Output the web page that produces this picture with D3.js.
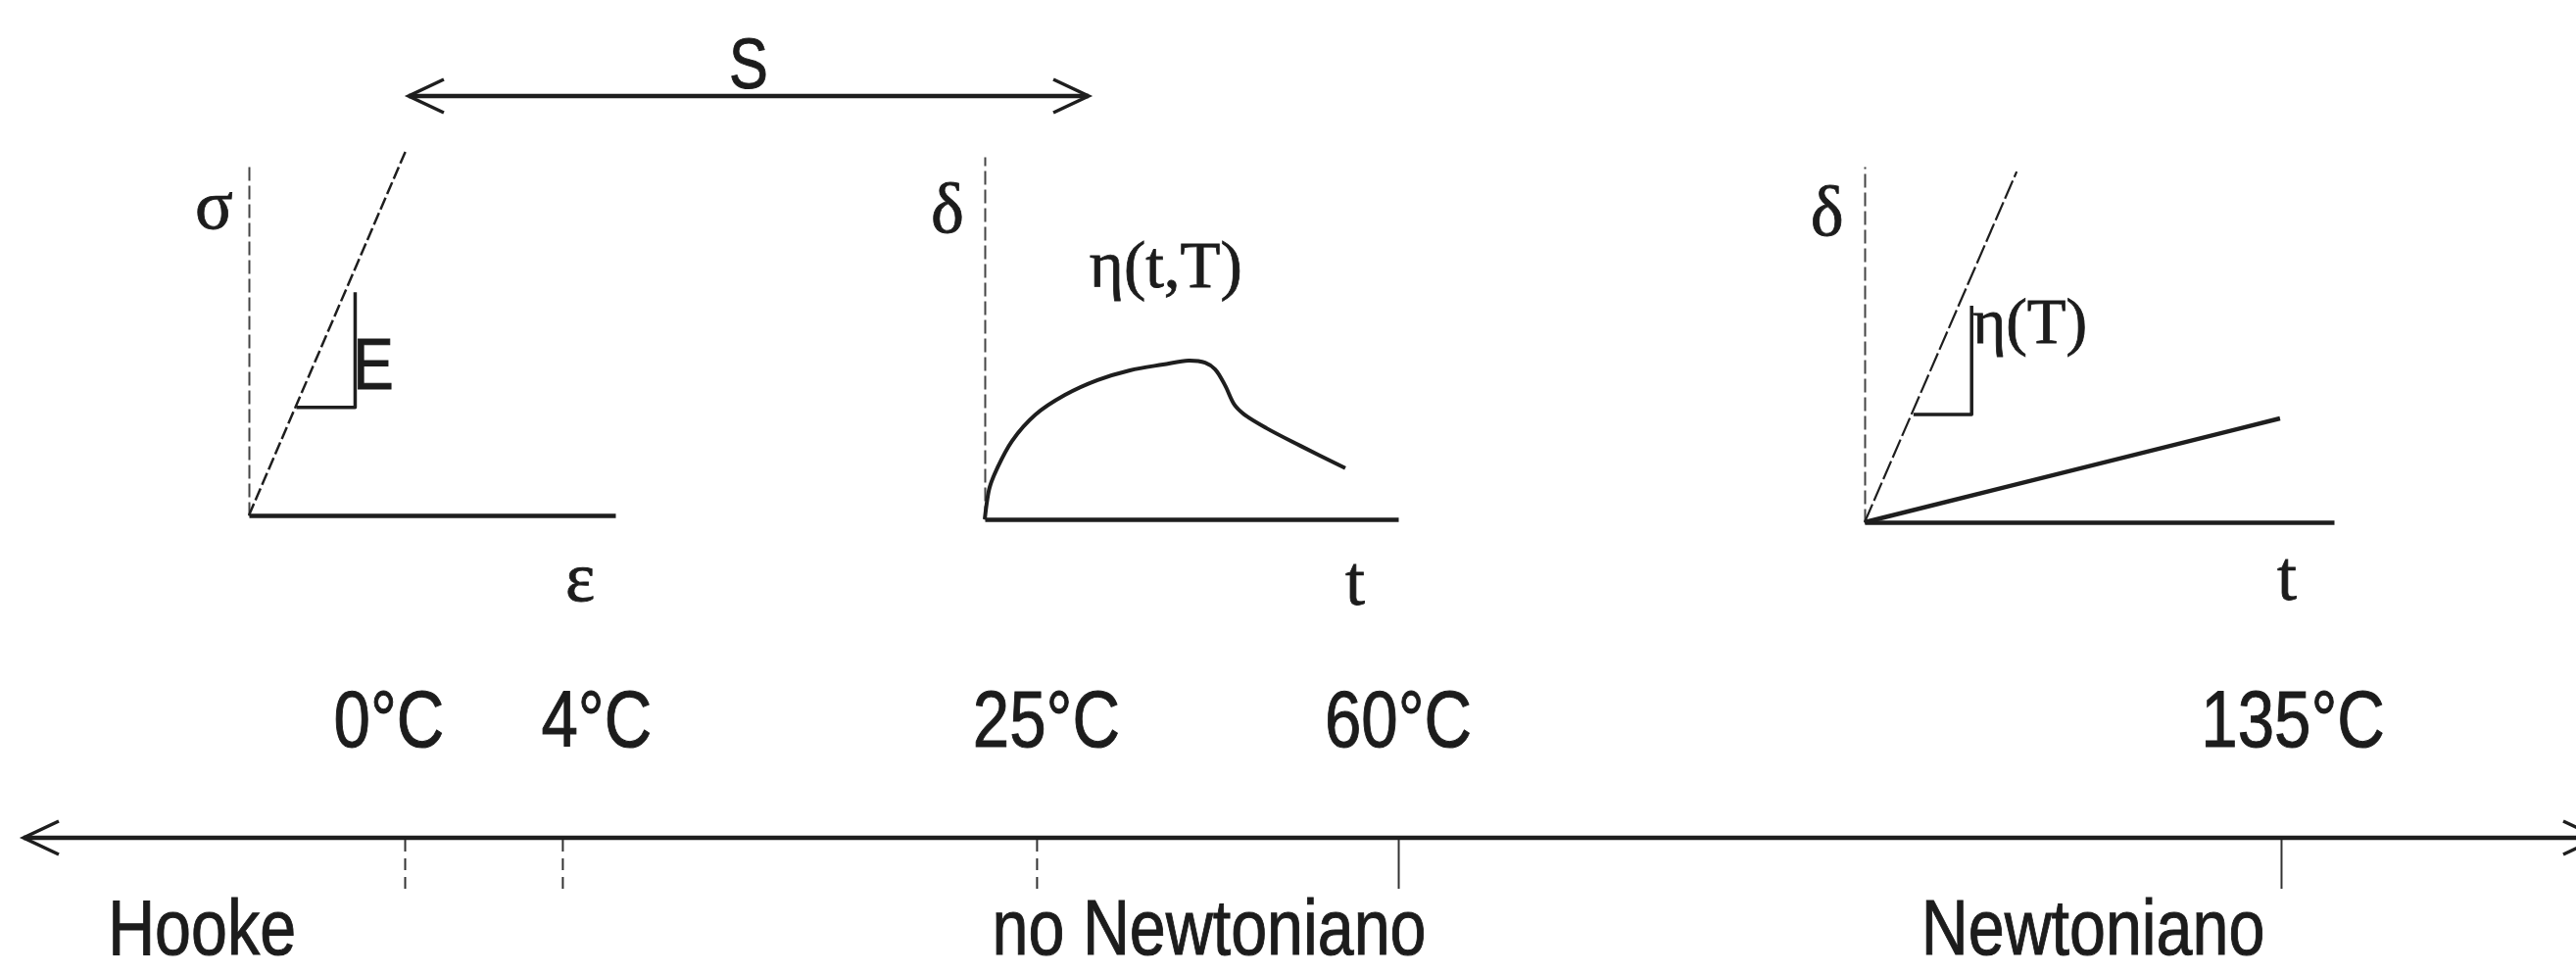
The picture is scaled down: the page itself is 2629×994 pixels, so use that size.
<!DOCTYPE html>
<html>
<head>
<meta charset="utf-8">
<script src="https://cdn.jsdelivr.net/npm/d3@7"></script>
<style>
  html, body { margin: 0; padding: 0; background: #fff; }
  svg { display: block; }
  .sans { font-family: "Liberation Sans", Arial, sans-serif; fill: #1c1c1c; stroke: #1c1c1c; stroke-width: 1; }
  .serif { font-family: "Liberation Serif", "DejaVu Serif", serif; fill: #1c1c1c; stroke: #1c1c1c; stroke-width: 0.8; }
</style>
</head>
<body>
<div id="graf"></div>
<script>
const anchoTotal = 2629
const altoTotal = 994
const tinta = '#1e1e1e'

// eje de temperaturas (posicion en % a lo largo del eje)
const tempLabels = ['0°C', '4°C', '25°C', '60°C', '135°C']
const tempTickPos = [15.71, 21.83, 40.24, 54.28, 88.55]
const tempLabelPos = [15.10, 23.16, 40.62, 54.28, 89.01]
const tickDashed = [true, true, true, false, false]
const regimes = ['Hooke', 'no Newtoniano', 'Newtoniano']
const regimePos = [7.84, 46.94, 81.25]
const sRange = [15.86, 42.26]
const sLabel = 'S'

// grafico 1: Hooke (sigma vs epsilon)
const hookeLine = [[0, 0], [43, 105]]
const hookeTri = [[13, 31], [29, 31], [29, 64]]
// grafico 2: no newtoniano (delta vs t)
const creepCurve = [[0, 0], [0.5, 4.6], [1.2, 8.9], [3.1, 14.3], [6.6, 21.6], [12.3, 28.9],
  [19.4, 34.3], [27.3, 38.4], [35.1, 41.1], [43.1, 42.7], [49.3, 43.8], [53.3, 43.2],
  [55.7, 41.4], [58.1, 37.0], [60.4, 31.6], [62.8, 28.9], [68.2, 25.1], [76.3, 20.3], [87.2, 14.1]]
// grafico 3: newtoniano
const newtonSteep = [[0, 0], [32.4, 98.6]]
const newtonShallow = [[0, 0], [88.5, 29.2]]
const newtonTri = [[10.4, 30.3], [22.8, 30.3], [22.8, 60.9]]

const svg = d3.select('#graf')
  .append('svg')
  .attr('width', anchoTotal)
  .attr('height', altoTotal)

// texto sans algo estrecho (como Helvetica Narrow)
function sansText(x, y, txt, size) {
  svg.append('text')
    .attr('class', 'sans')
    .attr('transform', `translate(${x}, ${y}) scale(0.83, 1)`)
    .attr('text-anchor', 'middle')
    .attr('font-size', size)
    .text(txt)
}

function arrowHead(x, y, dir) {
  svg.append('path')
    .attr('d', `M${x - dir * 36},${y - 17} L${x},${y} L${x - dir * 36},${y + 17}`)
    .attr('fill', 'none')
    .attr('stroke', tinta)
    .attr('stroke-width', 3.5)
}

// ---------- eje principal de temperatura ----------
const axisY = 855
const tx = d3.scaleLinear().domain([0, 100]).range([0, anchoTotal])

svg.append('line')
  .attr('x1', 24).attr('x2', 2652)
  .attr('y1', axisY).attr('y2', axisY)
  .attr('stroke', tinta).attr('stroke-width', 4.5)
arrowHead(24, axisY, -1)
arrowHead(2652, axisY, 1)

const ejeT = svg.append('g')
  .attr('transform', `translate(0, ${axisY + 2})`)
  .call(d3.axisBottom(tx).tickValues(tempTickPos).tickSize(50).tickFormat(''))
ejeT.select('.domain').remove()
ejeT.selectAll('.tick line')
  .attr('stroke', '#333')
  .attr('stroke-width', 2)
  .attr('stroke-dasharray', (d, i) => tickDashed[i] ? '12 7' : null)

tempLabels.forEach((t, i) => sansText(tx(tempLabelPos[i]), 762, t, 81))
regimes.forEach((t, i) => sansText(tx(regimePos[i]), 974, t, 80))

// ---------- flecha S ----------
const sy = 98
svg.append('line')
  .attr('x1', tx(sRange[0])).attr('x2', tx(sRange[1]))
  .attr('y1', sy).attr('y2', sy)
  .attr('stroke', tinta).attr('stroke-width', 4.5)
arrowHead(tx(sRange[0]), sy, -1)
arrowHead(tx(sRange[1]), sy, 1)
sansText((tx(sRange[0]) + tx(sRange[1])) / 2, 90, sLabel, 72)

// ---------- graficos pequeños ----------
const panels = [
  { ox: 254, oy: 526, xEnd: 628, yTop: 170,
    labels: [
      { t: 'σ', x: -9.5, y: 82.3, a: 'middle', c: 'serif', s: 72 },
      { t: 'E', x: 28.4, y: 36.2, a: 'start', c: 'sans', s: 75 },
      { t: 'ε', x: 90.4, y: -24.4, a: 'middle', c: 'serif', s: 72 }
    ] },
  { ox: 1005, oy: 530, xEnd: 1427, yTop: 160,
    labels: [
      { t: 'δ', x: -9.0, y: 79.2, a: 'middle', c: 'serif', s: 72 },
      { t: 'η(t,T)', x: 43.8, y: 64, a: 'middle', c: 'serif', s: 67 },
      { t: 't', x: 89.6, y: -23.5, a: 'middle', c: 'serif', s: 72 }
    ] },
  { ox: 1903, oy: 533, xEnd: 2382, yTop: 170,
    labels: [
      { t: 'δ', x: -8.0, y: 80.7, a: 'middle', c: 'serif', s: 72 },
      { t: 'η(T)', x: 23.0, y: 50.4, a: 'start', c: 'serif', s: 65 },
      { t: 't', x: 90.0, y: -21.8, a: 'middle', c: 'serif', s: 72 }
    ] }
]

panels.forEach(p => {
  p.x = d3.scaleLinear().domain([0, 100]).range([p.ox, p.xEnd])
  p.y = d3.scaleLinear().domain([0, 100]).range([p.oy, p.yTop])
  p.line = d3.line().x(d => p.x(d[0])).y(d => p.y(d[1]))

  // eje vertical punteado
  const ejeY = svg.append('g')
    .attr('transform', `translate(${p.ox}, 0)`)
    .call(d3.axisLeft(p.y).tickValues([]).tickSizeOuter(0))
  ejeY.select('.domain')
    .attr('stroke', '#444')
    .attr('stroke-width', 2)
    .attr('stroke-dasharray', '14 5')

  // eje horizontal
  const ejeX = svg.append('g')
    .attr('transform', `translate(0, ${p.oy})`)
    .call(d3.axisBottom(p.x).tickValues([]).tickSizeOuter(0))
  ejeX.select('.domain')
    .attr('stroke', tinta)
    .attr('stroke-width', 4.5)

  p.labels.forEach(l => {
    const el = svg.append('text')
      .attr('class', l.c)
      .attr('text-anchor', l.a)
      .attr('font-size', l.s)
      .text(l.t)
    if (l.c === 'sans') {
      el.attr('transform', `translate(${p.x(l.x)}, ${p.y(l.y)}) scale(0.83, 1)`)
    } else {
      el.attr('x', p.x(l.x)).attr('y', p.y(l.y))
    }
  })
})

function trazo(p, data, w, dash, curve) {
  const gen = curve ? p.line.curve(curve) : p.line.curve(d3.curveLinear)
  svg.append('path')
    .attr('d', gen(data))
    .attr('fill', 'none')
    .attr('stroke', tinta)
    .attr('stroke-width', w)
    .attr('stroke-linejoin', 'round')
    .attr('stroke-dasharray', dash)
}

const [pA, pB, pC] = panels
trazo(pA, hookeLine, 2.5, '13 4')
trazo(pA, hookeTri, 3.5, null)
trazo(pB, creepCurve, 4, null, d3.curveCatmullRom)
trazo(pC, newtonSteep, 2.2, '20 4')
trazo(pC, newtonShallow, 4.5, null)
trazo(pC, newtonTri, 3.5, null)
</script>
</body>
</html>
